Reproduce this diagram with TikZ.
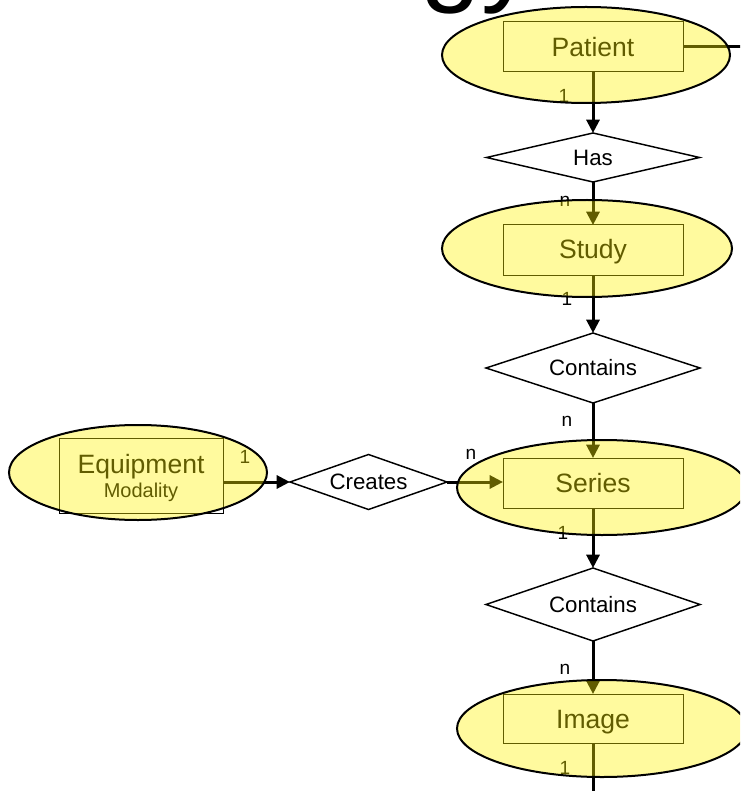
\documentclass[tikz,border=0pt]{standalone}
\usepackage{fontspec}
\setmainfont{Liberation Sans}
\usetikzlibrary{shapes.geometric,arrows.meta}

\tikzset{
  entitybox/.style={draw=black, line width=0.75pt, rectangle, inner sep=0pt, outer sep=0pt},
  entityname/.style={anchor=base, inner sep=0pt, font=\fontsize{19.9}{24}\selectfont},
  subname/.style={anchor=base, inner sep=0pt, font=\fontsize{15}{18}\selectfont},
  relation/.style={draw=black, line width=1.1pt, diamond, aspect=3, inner sep=0pt, outer sep=0pt,
    fill=white, font=\fontsize{16.7}{20}\selectfont},
  card/.style={anchor=base, inner sep=0pt, font=\fontsize{14.3}{17}\selectfont},
  halo/.style={ellipse, draw=black, line width=1.5pt, fill=yellow, fill opacity=0.38,
    draw opacity=1, inner sep=0pt, outer sep=0pt},
  link/.style={line width=2.25pt, draw=black},
  linkto/.style={link, -{Triangle[length=10pt,width=9.75pt]}},
}

\begin{document}
\begin{tikzpicture}[x=0.75pt, y=-0.75pt]
\useasboundingbox (0,0) rectangle (740,791);
\clip (0,0) rectangle (740,791);

% tail of the slide title
\node[anchor=base west, inner sep=0pt, font=\fontsize{82}{90}\selectfont] (title) at (420,-8) {gy};

% relationship diamonds
\node[relation, minimum width=159.75pt, minimum height=36.75pt] (has) at (593,157.5) {Has};
\node[relation, minimum width=160.5pt, minimum height=52.5pt] (contA) at (593,368) {Contains};
\node[relation, minimum width=160.5pt, minimum height=54.75pt] (contB) at (593,604.5) {Contains};
\node[relation, minimum width=117.75pt, minimum height=41.25pt] (creates) at (368.5,482) {Creates};

% entity boxes
\node[entitybox, minimum width=135pt, minimum height=37.5pt] (patientbox) at (593,47) {};
\node[entitybox, minimum width=135pt, minimum height=38.25pt] (studybox) at (593,250.5) {};
\node[entitybox, minimum width=135pt, minimum height=37.5pt] (seriesbox) at (593,483) {};
\node[entitybox, minimum width=135pt, minimum height=36.75pt] (imagebox) at (593,718.5) {};
\node[entitybox, minimum width=123pt, minimum height=56.25pt] (equipbox) at (141,475.5) {};

% entity names
\node[entityname] (patientname) at (593,57) {Patient};
\node[entityname] (studyname) at (593,259) {Study};
\node[entityname] (seriesname) at (593,492) {Series};
\node[entityname] (imagename) at (593,728) {Image};
\node[entityname] (equipname) at (141,473) {Equipment};
\node[subname] (modname) at (141,497) {Modality};

% connectors
\coordinate (patientout) at (760,47);
\coordinate (imageout) at (593,800);
\draw[link] (patientbox.east) -- (patientout);
\draw[linkto] (patientbox.south) -- (has.north);
\draw[linkto] (has.south) -- (studybox.north);
\draw[linkto] (studybox.south) -- (contA.north);
\draw[linkto] (contA.south) -- (seriesbox.north);
\draw[linkto] (seriesbox.south) -- (contB.north);
\draw[linkto] (contB.south) -- (imagebox.north);
\draw[link] (imagebox.south) -- (imageout);
\draw[linkto] (equipbox.east |- creates.west) -- (creates.west);
\draw[linkto] (creates.east) -- (creates.east -| seriesbox.west);

% cardinalities
\node[card] (c1) at (564,103) {1};
\node[card] (c2) at (565,207) {n};
\node[card] (c3) at (567,305) {1};
\node[card] (c4) at (567,426) {n};
\node[card] (c5) at (563,539) {1};
\node[card] (c6) at (565,674) {n};
\node[card] (c7) at (565,774) {1};
\node[card] (c8) at (245,463) {1};
\node[card] (c9) at (471,459) {n};

% translucent entity ellipses on top
\node[halo, minimum width=216pt, minimum height=72pt] (patient) at (586,55) {};
\node[halo, minimum width=217.5pt, minimum height=72.75pt] (study) at (587,248.5) {};
\node[halo, minimum width=217.5pt, minimum height=71.25pt] (series) at (602,487.5) {};
\node[halo, minimum width=217.5pt, minimum height=72.75pt] (image) at (602,728.5) {};
\node[halo, minimum width=193.5pt, minimum height=71.25pt] (equipment) at (138,472.5) {};
\end{tikzpicture}
\end{document}
